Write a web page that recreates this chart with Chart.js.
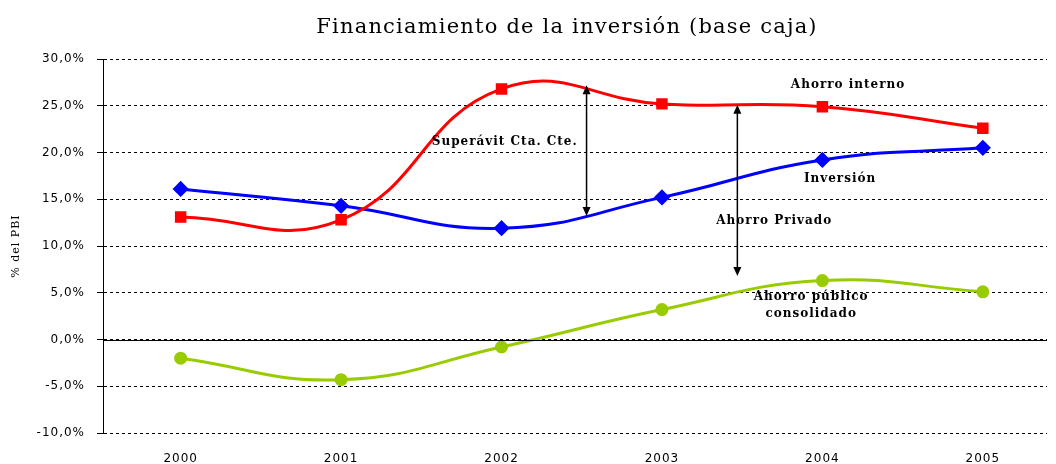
<!DOCTYPE html>
<html>
<head>
<meta charset="utf-8">
<script src="https://cdn.jsdelivr.net/npm/chart.js@4.4.1/dist/chart.umd.min.js"></script>
<style>
  body { margin: 0; background: #fff; }
  #wrap { width: 1056px; height: 464px; }
</style>
</head>
<body>
<div id="wrap"><canvas id="chart" width="1056" height="464"></canvas></div>
<script>
const years = [2000, 2001, 2002, 2003, 2004, 2005];
const ahorroInterno = [13.1, 12.8, 26.8, 25.2, 24.9, 22.6];
const inversion = [16.1, 14.3, 11.9, 15.2, 19.2, 20.5];
const ahorroPublico = [-2.0, -4.3, -0.8, 3.2, 6.3, 5.1];
const yTicks = [30, 25, 20, 15, 10, 5, 0, -5, -10];

// annotations, in data units (year, %)
const arrows = [
  { x: 2002.53, from: 27.2, to: 13.2 },
  { x: 2003.47, from: 25.1, to: 6.8 }
];
const notes = [
  { x: 2004.16, y: 27.2, text: "Ahorro interno" },
  { x: 2004.11, y: 17.2, text: "Inversión" },
  { x: 2002.02, y: 21.1, text: "Superávit Cta. Cte." },
  { x: 2003.70, y: 12.7, text: "Ahorro Privado" },
  { x: 2003.93, y: 4.6, text: "Ahorro público" },
  { x: 2003.93, y: 2.75, text: "consolidado" }
];

function toPoints(values) {
  return values.map((v, i) => ({ x: years[i], y: v }));
}

const extras = {
  id: "extras",
  beforeDraw(chart) {
    // wider spacing for the axis labels
    chart.ctx.letterSpacing = "1px";
  },
  afterDraw(chart) {
    const ctx = chart.ctx;
    const xs = chart.scales.x;
    const ys = chart.scales.y;
    ctx.save();

    // title
    ctx.fillStyle = "#000";
    ctx.font = "21px 'DejaVu Serif', serif";
    ctx.letterSpacing = "1.2px";
    ctx.textAlign = "center";
    ctx.textBaseline = "middle";
    ctx.fillText("Financiamiento de la inversión (base caja)", 567, 28);

    // solid zero line
    const y0 = Math.round(ys.getPixelForValue(0)) + 0.5;
    ctx.strokeStyle = "#000";
    ctx.lineWidth = 1;
    ctx.beginPath();
    ctx.moveTo(chart.chartArea.left, y0);
    ctx.lineTo(chart.chartArea.right, y0);
    ctx.stroke();

    // double arrows
    ctx.strokeStyle = "#000";
    ctx.fillStyle = "#000";
    ctx.lineWidth = 1.5;
    arrows.forEach(a => {
      const px = xs.getPixelForValue(a.x);
      const p1 = ys.getPixelForValue(a.from);
      const p2 = ys.getPixelForValue(a.to);
      ctx.beginPath();
      ctx.moveTo(px, p1 + 4);
      ctx.lineTo(px, p2 - 4);
      ctx.stroke();
      ctx.beginPath();
      ctx.moveTo(px, p1);
      ctx.lineTo(px - 4, p1 + 9);
      ctx.lineTo(px + 4, p1 + 9);
      ctx.closePath();
      ctx.fill();
      ctx.beginPath();
      ctx.moveTo(px, p2);
      ctx.lineTo(px - 4, p2 - 9);
      ctx.lineTo(px + 4, p2 - 9);
      ctx.closePath();
      ctx.fill();
    });

    // text notes
    ctx.font = "bold 12px 'DejaVu Serif', serif";
    ctx.letterSpacing = "1px";
    ctx.textAlign = "center";
    ctx.textBaseline = "middle";
    notes.forEach(n => {
      ctx.fillText(n.text, xs.getPixelForValue(n.x), ys.getPixelForValue(n.y));
    });
    ctx.restore();
    ctx.letterSpacing = "0px";
  }
};

new Chart(document.getElementById("chart"), {
  type: "line",
  data: {
    datasets: [
      {
        label: "Ahorro interno",
        data: toPoints(ahorroInterno),
        borderColor: "#FF0000",
        backgroundColor: "#FF0000",
        borderWidth: 3,
        pointStyle: "rect",
        pointRadius: 6,
        tension: 0.45
      },
      {
        label: "Inversión",
        data: toPoints(inversion),
        borderColor: "#0000FF",
        backgroundColor: "#0000FF",
        borderWidth: 3,
        pointStyle: "rectRot",
        pointRadius: 6,
        tension: 0.45
      },
      {
        label: "Ahorro público consolidado",
        data: toPoints(ahorroPublico),
        borderColor: "#99CC00",
        backgroundColor: "#99CC00",
        borderWidth: 3,
        pointStyle: "circle",
        pointRadius: 5,
        tension: 0.45
      }
    ]
  },
  options: {
    responsive: false,
    animation: false,
    layout: { padding: { top: 59, right: 6, left: 10, bottom: 0 } },
    plugins: {
      legend: { display: false },
      title: { display: false },
      tooltip: { enabled: false }
    },
    scales: {
      x: {
        type: "linear",
        min: 1999.516,
        max: 2005.4,
        afterBuildTicks: s => { s.ticks = years.map(v => ({ value: v })); },
        afterFit: s => { s.height = 31; },
        grid: { display: false },
        border: { display: false },
        ticks: {
          color: "#000",
          font: { family: "'DejaVu Sans', sans-serif", size: 12 },
          padding: 11,
          maxRotation: 0,
          callback: v => String(v)
        }
      },
      y: {
        min: -10,
        max: 30,
        afterBuildTicks: s => { s.ticks = yTicks.map(v => ({ value: v })); },
        afterFit: s => { s.width = 93; },
        grid: {
          color: "#000",
          lineWidth: 1,
          tickLength: 6,
          tickColor: "#000",
          tickBorderDash: [],
          drawTicks: true
        },
        border: { display: true, color: "#000", width: 1, dash: [3, 3] },
        title: {
          display: true,
          text: "% del PBI",
          color: "#000",
          font: { family: "'DejaVu Serif', serif", size: 11 },
          padding: { top: 0, bottom: 0 }
        },
        ticks: {
          color: "#000",
          font: { family: "'DejaVu Sans', sans-serif", size: 12 },
          padding: 12,
          callback: v => v.toFixed(1).replace(".", ",") + "%"
        }
      }
    }
  },
  plugins: [extras]
});
</script>
</body>
</html>
